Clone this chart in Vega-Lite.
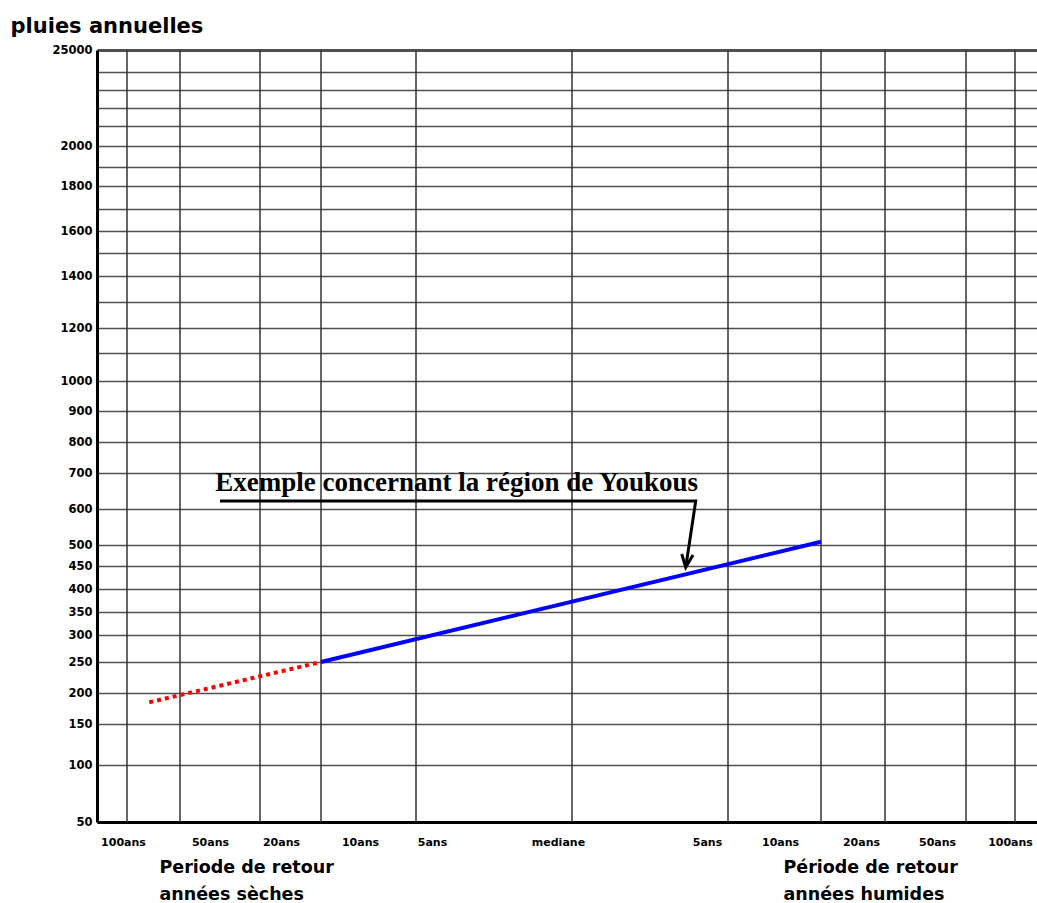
{
  "$schema": "https://vega.github.io/schema/vega-lite/v6.json",
  "width": 940,
  "height": 772,
  "autosize": "none",
  "padding": {"left": 97, "top": 50, "right": 0, "bottom": 81},
  "background": "white",
  "config": {"view": {"stroke": null}},
  "datasets": {
    "vgrid": [{"p": 0.01}, {"p": 0.02}, {"p": 0.05}, {"p": 0.1}, {"p": 0.2}, {"p": 0.5}, {"p": 0.8}, {"p": 0.9}, {"p": 0.95}, {"p": 0.98}, {"p": 0.99}],
    "ajustement": [{"p": 0.1, "v": 250}, {"p": 0.9, "v": 509}],
    "extrapolation": [{"p": 0.0142, "v": 185}, {"p": 0.1, "v": 250}],
    "annotation": [{"p": 0.2783, "v": 650, "label": "Exemple concernant la région de Youkous"}],
    "fleche": [
      {"seg": "trait", "ord": 0, "p": 0.035, "v": 622},
      {"seg": "trait", "ord": 1, "p": 0.7379, "v": 622},
      {"seg": "trait", "ord": 2, "p": 0.7187, "v": 447},
      {"seg": "pointe", "ord": 0, "p": 0.711, "v": 478.6},
      {"seg": "pointe", "ord": 1, "p": 0.7187, "v": 447},
      {"seg": "pointe", "ord": 2, "p": 0.7327, "v": 476.2}
    ]
  },
  "resolve": {"axis": {"x": "independent", "y": "independent"}},
  "layer": [
    {
      "data": {"name": "vgrid"},
      "mark": {"type": "rule", "color": "#333333", "strokeWidth": 1.5},
      "encoding": {
        "x": {
          "field": "p", "type": "quantitative",
          "scale": {"domain": [0.005, 0.01, 0.02, 0.05, 0.1, 0.2, 0.5, 0.8, 0.9, 0.95, 0.98, 0.99, 0.995], "range": [0, 30, 83, 163, 224, 319, 475, 631, 724, 788, 869, 918, 940], "nice": false, "zero": false},
          "axis": {
            "orient": "bottom",
            "values": [0.00933, 0.03125, 0.0672, 0.141, 0.2308, 0.473, 0.7596, 0.856, 0.93125, 0.9693, 0.98898],
            "labelExpr": "datum.value < 0.01 ? '100ans' : datum.value < 0.05 ? '50ans' : datum.value < 0.1 ? '20ans' : datum.value < 0.2 ? '10ans' : datum.value < 0.3 ? '5ans' : datum.value < 0.6 ? 'mediane' : datum.value < 0.8 ? '5ans' : datum.value < 0.9 ? '10ans' : datum.value < 0.95 ? '20ans' : datum.value < 0.98 ? '50ans' : '100ans'",
            "grid": false, "ticks": false,
            "domain": true, "domainColor": "black", "domainWidth": 3,
            "labelFont": "DejaVu Sans", "labelFontWeight": "bold", "labelFontSize": 11, "labelColor": "black",
            "labelPadding": 14, "labelOverlap": false, "labelFlush": false, "labelBound": false,
            "title": ["Periode de retour", "années sèches"],
            "titleX": 62, "titleY": 50, "titleAlign": "left", "titleBaseline": "alphabetic", "titleAngle": 0,
            "titleFont": "DejaVu Sans", "titleFontWeight": "bold", "titleFontSize": 17.5, "titleColor": "black", "titleLineHeight": 27
          }
        }
      }
    },
    {
      "data": {"name": "ajustement"},
      "mark": {"type": "line", "color": "#0000ff", "strokeWidth": 4},
      "encoding": {
        "x": {
          "field": "p", "type": "quantitative",
          "scale": {"domain": [0.005, 0.01, 0.02, 0.05, 0.1, 0.2, 0.5, 0.8, 0.9, 0.95, 0.98, 0.99, 0.995], "range": [0, 30, 83, 163, 224, 319, 475, 631, 724, 788, 869, 918, 940], "nice": false, "zero": false},
          "axis": {
            "orient": "bottom", "labels": false, "ticks": false, "domain": false, "grid": false,
            "title": ["Période de retour", "années humides"],
            "titleX": 686, "titleY": 50, "titleAlign": "left", "titleBaseline": "alphabetic", "titleAngle": 0,
            "titleFont": "DejaVu Sans", "titleFontWeight": "bold", "titleFontSize": 17.5, "titleColor": "black", "titleLineHeight": 27
          }
        },
        "y": {
          "field": "v", "type": "quantitative",
          "scale": {"domain": [50, 100, 150, 200, 250, 300, 350, 400, 450, 500, 600, 700, 800, 900, 1000, 1100, 1200, 1300, 1400, 1500, 1600, 1700, 1800, 1900, 2000, 2100, 2200, 2300, 2400, 2500], "range": [772, 715, 674, 643, 612, 585, 562, 539, 516, 495, 459, 423, 392, 361, 331, 303, 278, 252, 226, 203, 181, 159, 136, 117, 96, 76, 58, 40, 22, 0], "nice": false, "zero": false},
          "axis": {
            "orient": "left",
            "values": [50, 100, 150, 200, 250, 300, 350, 400, 450, 500, 600, 700, 800, 900, 1000, 1100, 1200, 1300, 1400, 1500, 1600, 1700, 1800, 1900, 2000, 2100, 2200, 2300, 2400, 2500],
            "format": "d",
            "labelExpr": "datum.value == 2500 ? '25000' : (datum.value <= 1000 || (datum.value <= 2000 && datum.value % 200 == 0)) ? datum.label : ''",
            "grid": true, "gridColor": "#505050",
            "gridWidth": {"condition": {"test": "datum.value == 2500", "value": 3}, "value": 1.5},
            "ticks": false,
            "domain": true, "domainColor": "black", "domainWidth": 3,
            "labelFont": "DejaVu Sans", "labelFontWeight": "bold", "labelFontSize": 11.5, "labelColor": "black",
            "labelPadding": 5, "labelOverlap": false, "labelFlush": false, "labelBound": false,
            "title": "pluies annuelles",
            "titleX": -87, "titleY": -18, "titleAlign": "left", "titleBaseline": "alphabetic", "titleAngle": 0,
            "titleFont": "DejaVu Sans", "titleFontWeight": "bold", "titleFontSize": 21, "titleColor": "black"
          }
        }
      }
    },
    {
      "data": {"name": "extrapolation"},
      "mark": {"type": "line", "color": "#ff0000", "strokeWidth": 4, "strokeDash": [4, 4], "strokeCap": "butt"},
      "encoding": {
        "x": {"field": "p", "type": "quantitative", "axis": null,
          "scale": {"domain": [0.005, 0.01, 0.02, 0.05, 0.1, 0.2, 0.5, 0.8, 0.9, 0.95, 0.98, 0.99, 0.995], "range": [0, 30, 83, 163, 224, 319, 475, 631, 724, 788, 869, 918, 940], "nice": false, "zero": false}},
        "y": {"field": "v", "type": "quantitative", "axis": null,
          "scale": {"domain": [50, 100, 150, 200, 250, 300, 350, 400, 450, 500, 600, 700, 800, 900, 1000, 1100, 1200, 1300, 1400, 1500, 1600, 1700, 1800, 1900, 2000, 2100, 2200, 2300, 2400, 2500], "range": [772, 715, 674, 643, 612, 585, 562, 539, 516, 495, 459, 423, 392, 361, 331, 303, 278, 252, 226, 203, 181, 159, 136, 117, 96, 76, 58, 40, 22, 0], "nice": false, "zero": false}}
      }
    },
    {
      "data": {"name": "fleche"},
      "mark": {"type": "line", "color": "black", "strokeWidth": 3, "strokeJoin": "miter"},
      "encoding": {
        "x": {"field": "p", "type": "quantitative", "axis": null,
          "scale": {"domain": [0.005, 0.01, 0.02, 0.05, 0.1, 0.2, 0.5, 0.8, 0.9, 0.95, 0.98, 0.99, 0.995], "range": [0, 30, 83, 163, 224, 319, 475, 631, 724, 788, 869, 918, 940], "nice": false, "zero": false}},
        "y": {"field": "v", "type": "quantitative", "axis": null,
          "scale": {"domain": [50, 100, 150, 200, 250, 300, 350, 400, 450, 500, 600, 700, 800, 900, 1000, 1100, 1200, 1300, 1400, 1500, 1600, 1700, 1800, 1900, 2000, 2100, 2200, 2300, 2400, 2500], "range": [772, 715, 674, 643, 612, 585, 562, 539, 516, 495, 459, 423, 392, 361, 331, 303, 278, 252, 226, 203, 181, 159, 136, 117, 96, 76, 58, 40, 22, 0], "nice": false, "zero": false}},
        "detail": {"field": "seg", "type": "nominal"},
        "order": {"field": "ord", "type": "quantitative"}
      }
    },
    {
      "data": {"name": "annotation"},
      "mark": {"type": "text", "font": "Liberation Serif", "fontWeight": "bold", "fontSize": 27, "color": "black", "align": "center", "baseline": "alphabetic"},
      "encoding": {
        "x": {"field": "p", "type": "quantitative", "axis": null,
          "scale": {"domain": [0.005, 0.01, 0.02, 0.05, 0.1, 0.2, 0.5, 0.8, 0.9, 0.95, 0.98, 0.99, 0.995], "range": [0, 30, 83, 163, 224, 319, 475, 631, 724, 788, 869, 918, 940], "nice": false, "zero": false}},
        "y": {"field": "v", "type": "quantitative", "axis": null,
          "scale": {"domain": [50, 100, 150, 200, 250, 300, 350, 400, 450, 500, 600, 700, 800, 900, 1000, 1100, 1200, 1300, 1400, 1500, 1600, 1700, 1800, 1900, 2000, 2100, 2200, 2300, 2400, 2500], "range": [772, 715, 674, 643, 612, 585, 562, 539, 516, 495, 459, 423, 392, 361, 331, 303, 278, 252, 226, 203, 181, 159, 136, 117, 96, 76, 58, 40, 22, 0], "nice": false, "zero": false}},
        "text": {"field": "label", "type": "nominal"}
      }
    }
  ]
}
